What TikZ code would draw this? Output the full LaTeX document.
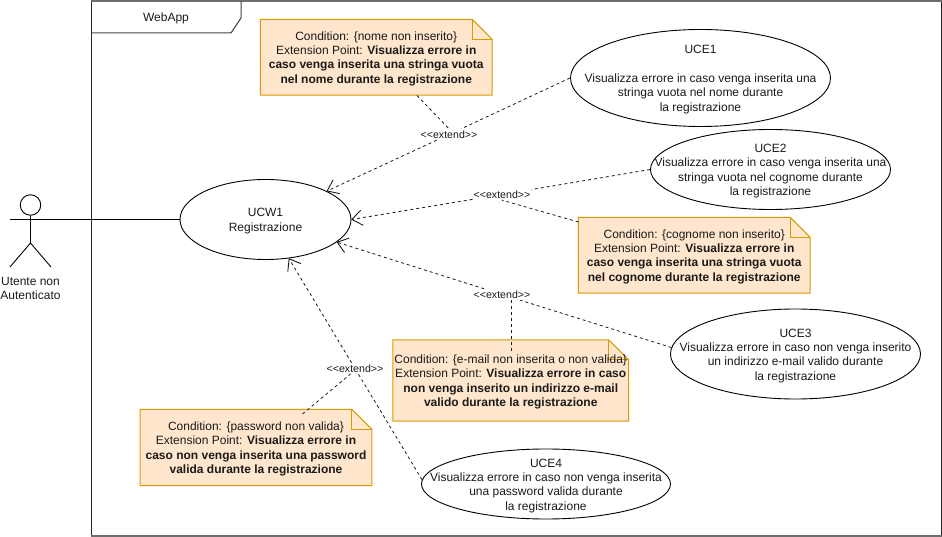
\documentclass[tikz,border=0pt]{standalone}
\usepackage{fontspec}
\setmainfont{Liberation Sans}
\usetikzlibrary{shapes.geometric,arrows.meta,calc}
\pgfdeclarelayer{bg}
\pgfsetlayers{bg,main}
\definecolor{notefill}{HTML}{FFE6CC}
\definecolor{noteline}{HTML}{D79B00}
\definecolor{ink}{HTML}{1A1A1A}
\definecolor{framegray}{HTML}{6E6E6E}
\newcommand{\topline}{\rule{0pt}{11.6pt}}
\tikzset{
  base/.style={line width=0.9pt,draw=black},
  txt/.style={font=\fontsize{12}{14.3}\selectfont,align=center,text=ink,inner sep=0pt},
  usecase/.style={ellipse,base,inner sep=0pt,fill=white},
  notebox/.style={txt,rectangle,draw=none},
  noteedge/.style={line width=1pt,draw=noteline},
  stereo/.style={font=\fontsize{10.6}{12}\selectfont,text=ink,inner sep=0pt,inner xsep=1pt,minimum height=11pt},
  dep/.style={line width=0.8pt,draw=ink,dash pattern=on 3pt off 3pt},
  deparrow/.style={dep,-{Straight Barb[length=10pt,width=15pt,line width=0.9pt,round=false]}},
}
\newcommand{\notefold}[1]{%
  \begin{pgfonlayer}{bg}
  \draw[noteedge,fill=notefill] (#1.north west) -- ($(#1.north east)+(-20,0)$) -- ($(#1.north east)+(0,20)$) -- (#1.south east) -- (#1.south west) -- cycle;
  \draw[noteedge] ($(#1.north east)+(-20,0)$) -- ++(0,20) -- ++(20,0);
  \end{pgfonlayer}}
\begin{document}
\begin{tikzpicture}[x=1pt,y=-1pt]
\useasboundingbox (0,0) rectangle (942,537);
% frame
\draw[line width=1pt,draw=black!85] (91.5,1) -- (91.5,536);
\draw[line width=1pt,draw=black!85] (941,1) -- (941,536);
\draw[line width=1.8pt,draw=framegray] (91,0.9) -- (941.5,0.9);
\draw[line width=1.8pt,draw=framegray] (91,536) -- (941.5,536);
\coordinate (tabA) at (241,1);
\coordinate (tabB) at (241,18);
\coordinate (tabC) at (231,33);
\coordinate (tabD) at (91,33);
\draw[line width=1pt,draw=black!75] (tabA) -- (tabB) -- (tabC) -- (tabD);
\node[txt] (webapp) at (166,16.5) {\topline WebApp};
% actor
\node[circle,base,minimum size=20.5pt,inner sep=0pt] (head) at (30.5,205) {};
\coordinate (hip) at (30.5,243);
\coordinate (armL) at (10,219.5);
\coordinate (armR) at (51,219.5);
\coordinate (legL) at (10,267);
\coordinate (legR) at (51,267);
\draw[base] (head) -- (hip) (armL) -- (armR) (hip) -- (legL) (hip) -- (legR);
\node[txt] (actorlabel) at (30.5,286.5) {\topline Utente non\\Autenticato};
% use cases
\node[usecase,minimum width=171pt,minimum height=80pt,label={[txt]center:\topline UCW1\\Registrazione}] (ucw) at (265.5,219.5) {};
\node[usecase,minimum width=260pt,minimum height=97pt,label={[txt]center:\topline UCE1\\[14.3pt]Visualizza errore in caso venga inserita una\\stringa vuota nel nome durante\\la registrazione}] (uce1) at (700.5,78) {};
\node[usecase,minimum width=240pt,minimum height=80pt,label={[txt]center:\topline UCE2\\Visualizza errore in caso venga inserita una\\stringa vuota nel cognome durante\\la registrazione}] (uce2) at (770.5,169.5) {};
\node[usecase,minimum width=250pt,minimum height=90pt,label={[txt]center:\topline UCE3\\Visualizza errore in caso non venga inserito\\un indirizzo e-mail valido durante\\la registrazione}] (uce3) at (795.5,354) {};
\node[usecase,minimum width=249pt,minimum height=70pt,label={[txt]center:\topline UCE4\\Visualizza errore in caso non venga inserita\\una password valida durante\\la registrazione}] (uce4) at (546,484) {};
% notes
\node[notebox,minimum width=231.5pt,minimum height=75.5pt] (note1) at (376.25,57.25) {\topline Condition: \{nome non inserito\}\\Extension Point: \textbf{Visualizza errore in}\\\textbf{caso venga inserita una stringa vuota}\\\textbf{nel nome durante la registrazione}};
\notefold{note1}
\node[notebox,minimum width=231.5pt,minimum height=75.5pt] (note2) at (694.25,255.25) {\topline Condition: \{cognome non inserito\}\\Extension Point: \textbf{Visualizza errore in}\\\textbf{caso venga inserita una stringa vuota}\\\textbf{nel cognome durante la registrazione}};
\notefold{note2}
\node[notebox,minimum width=235.5pt,minimum height=81pt] (note3) at (510.75,380.5) {\topline Condition: \{e-mail non inserita o non valida\}\\Extension Point: \textbf{Visualizza errore in caso}\\\textbf{non venga inserito un indirizzo e-mail}\\\textbf{valido durante la registrazione}};
\notefold{note3}
\node[notebox,minimum width=231.5pt,minimum height=76pt] (note4) at (256,447.5) {\topline Condition: \{password non valida\}\\Extension Point: \textbf{Visualizza errore in}\\\textbf{caso non venga inserita una password}\\\textbf{valida durante la registrazione}};
\notefold{note4}
% stereotypes
\node[stereo] (l1) at (449,134.5) {<{}<extend>{}>};
\node[stereo] (l2) at (502,194.5) {<{}<extend>{}>};
\node[stereo] (l3) at (502,294.5) {<{}<extend>{}>};
\node[stereo] (l4) at (355,368.5) {<{}<extend>{}>};
% free ends of the note links
\coordinate (n1end) at (417,95.5);
\coordinate (n2end) at (578.5,222);
\coordinate (n3end) at (511,351);
\coordinate (n3lab) at (511,299.5);
\coordinate (n4end) at (302.5,414);
\coordinate (n4lab) at (350.5,374);
% connectors
\draw[base] (armR) -- (ucw.west);
\draw[dep] (uce1.west) -- (l1);
\draw[deparrow] (l1) -- (ucw);
\draw[dep] (n1end) -- (l1.north);
\draw[dep] (uce2.west) -- (l2);
\draw[deparrow] (l2) -- (ucw.east);
\draw[dep] (n2end) -- (l2.south);
\draw[dep] (uce3.177) -- (l3);
\draw[deparrow] (l3) -- (ucw);
\draw[dep] (n3end) -- (n3lab);
\draw[dep] (uce4.178) -- (l4);
\draw[deparrow] (l4) -- (ucw);
\draw[dep] (n4end) -- (n4lab);
\end{tikzpicture}
\end{document}
